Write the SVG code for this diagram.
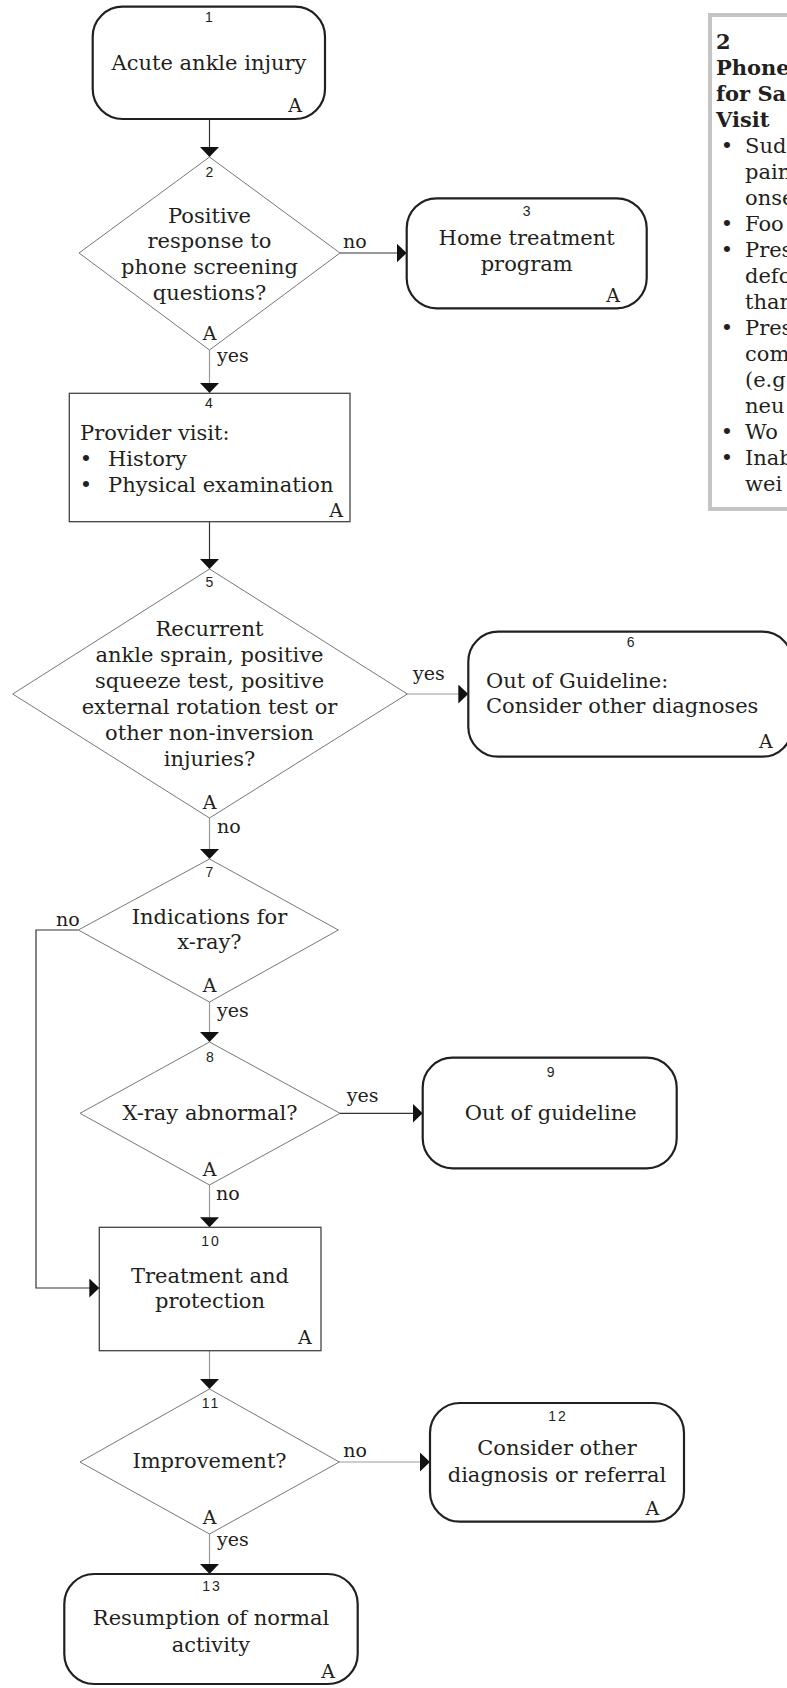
<svg xmlns="http://www.w3.org/2000/svg" width="787" height="1688" viewBox="0 0 787 1688">
<defs>
<style>
.t{font-family:"DejaVu Serif","Liberation Serif",serif;font-size:21px;fill:#231f20;text-anchor:middle}
.tl{font-family:"DejaVu Serif","Liberation Serif",serif;font-size:21px;fill:#231f20}
.tb{font-family:"DejaVu Serif","Liberation Serif",serif;font-size:21px;font-weight:bold;fill:#231f20}
.n{font-family:"Liberation Sans",Arial,sans-serif;font-size:14px;fill:#231f20;text-anchor:middle}
.a{font-family:"DejaVu Serif","Liberation Serif",serif;font-size:19px;fill:#231f20;text-anchor:middle}
.ae{font-family:"DejaVu Serif","Liberation Serif",serif;font-size:19px;fill:#231f20;text-anchor:end}
.l{font-family:"DejaVu Serif","Liberation Serif",serif;font-size:19px;fill:#231f20}
.term{fill:#fff;stroke:#231f20;stroke-width:2.2}
.box{fill:#fff;stroke:#444;stroke-width:1.3}
.dia{fill:#fff;stroke:#777;stroke-width:1}
.c{fill:none;stroke:#333;stroke-width:1.2;marker-end:url(#ah)}
.cg{fill:none;stroke:#999;stroke-width:1.2;marker-end:url(#ah)}
</style>
<marker id="ah" markerUnits="userSpaceOnUse" markerWidth="10" markerHeight="19" viewBox="0 0 10 19" refX="10" refY="9.5" orient="auto">
<path d="M0,0 L10,9.5 L0,19 z" fill="#111"/>
</marker>
</defs>

<g id="connectors">
<path class="c" d="M209.5,119 L209.5,157"/>
<path class="c" d="M340,253 L406.7,253"/>
<path class="cg" d="M209.5,350 L209.5,393"/>
<path class="c" d="M209.5,521.7 L209.5,569"/>
<path class="cg" d="M407.3,694 L468.3,694"/>
<path class="cg" d="M209.5,818 L209.5,859"/>
<path class="cg" d="M209.5,1002 L209.5,1042"/>
<path class="c" d="M78.3,930 L36,930 L36,1288 L99.3,1288"/>
<path class="c" d="M340,1113.3 L422.7,1113.3"/>
<path class="cg" d="M209.5,1185 L209.5,1227.3"/>
<path class="cg" d="M209.5,1350.7 L209.5,1389"/>
<path class="cg" d="M339.3,1462 L430,1462"/>
<path class="cg" d="M209.5,1534 L209.5,1574"/>
</g>

<g id="node1">
<rect class="term" x="92.7" y="6.7" width="232.3" height="112.3" rx="30" ry="30"/>
<text class="n" x="209" y="22">1</text>
<text class="t" x="209" y="70">Acute ankle injury</text>
<text class="ae" x="302" y="112">A</text>
</g>

<g id="node2">
<polygon class="dia" points="209.5,157 340,253 209.5,350 79,253"/>
<text class="n" x="209.5" y="177">2</text>
<text class="t" x="209.5" y="222.5">Positive</text>
<text class="t" x="209.5" y="248">response to</text>
<text class="t" x="209.5" y="274">phone screening</text>
<text class="t" x="209.5" y="299.5">questions?</text>
<text class="a" x="209.5" y="340">A</text>
<text class="l" x="343" y="248">no</text>
<text class="l" x="217" y="362">yes</text>
</g>

<g id="node3">
<rect class="term" x="406.7" y="198.3" width="240" height="110" rx="30" ry="30"/>
<text class="n" x="526.7" y="216">3</text>
<text class="t" x="526.7" y="245">Home treatment</text>
<text class="t" x="526.7" y="271">program</text>
<text class="ae" x="620" y="302">A</text>
</g>

<g id="node4">
<rect class="box" x="69.3" y="393.3" width="280.7" height="128.4"/>
<text class="n" x="209" y="408">4</text>
<text class="tl" x="80" y="440">Provider visit:</text>
<text class="t" x="86" y="465.7">•</text>
<text class="tl" x="108" y="465.7">History</text>
<text class="t" x="86" y="491.7">•</text>
<text class="tl" x="108" y="491.7">Physical examination</text>
<text class="ae" x="343" y="516.7">A</text>
</g>

<g id="node5">
<polygon class="dia" points="209.5,569 407.3,694 209.5,818 12.7,694"/>
<text class="n" x="209.5" y="587">5</text>
<text class="t" x="209.5" y="636">Recurrent</text>
<text class="t" x="209.5" y="661.7">ankle sprain, positive</text>
<text class="t" x="209.5" y="688">squeeze test, positive</text>
<text class="t" x="209.5" y="714">external rotation test or</text>
<text class="t" x="209.5" y="740">other non-inversion</text>
<text class="t" x="209.5" y="765.5">injuries?</text>
<text class="a" x="209.5" y="809.3">A</text>
<text class="l" x="413" y="680">yes</text>
<text class="l" x="217" y="832.7">no</text>
</g>

<g id="node6">
<rect class="term" x="468.3" y="631.7" width="324" height="125" rx="30" ry="30"/>
<text class="n" x="630.7" y="647">6</text>
<text class="tl" x="486" y="688.3">Out of Guideline:</text>
<text class="tl" x="486" y="713.3">Consider other diagnoses</text>
<text class="ae" x="772.7" y="748.3">A</text>
</g>

<g id="node7">
<polygon class="dia" points="209.5,859 338.3,930 209.5,1002 78.3,930"/>
<text class="n" x="209.5" y="877">7</text>
<text class="t" x="209.5" y="924">Indications for</text>
<text class="t" x="209.5" y="949.3">x-ray?</text>
<text class="a" x="209.5" y="991.7">A</text>
<text class="l" x="56" y="926">no</text>
<text class="l" x="217" y="1016.7">yes</text>
</g>

<g id="node8">
<polygon class="dia" points="209.5,1042 340,1113.3 209.5,1185 80,1113.3"/>
<text class="n" x="210" y="1062">8</text>
<text class="t" x="210" y="1120">X-ray abnormal?</text>
<text class="a" x="209.5" y="1176">A</text>
<text class="l" x="346.7" y="1101.7">yes</text>
<text class="l" x="216" y="1200">no</text>
</g>

<g id="node9">
<rect class="term" x="422.7" y="1057.7" width="254" height="110.6" rx="30" ry="30"/>
<text class="n" x="550.7" y="1077">9</text>
<text class="t" x="550.7" y="1120">Out of guideline</text>
</g>

<g id="node10">
<rect class="box" x="99.3" y="1227.3" width="221.7" height="123.4"/>
<text class="n" x="211" y="1246" letter-spacing="2">10</text>
<text class="t" x="210" y="1282.7">Treatment and</text>
<text class="t" x="210" y="1308.3">protection</text>
<text class="ae" x="311.7" y="1344.3">A</text>
</g>

<g id="node11">
<polygon class="dia" points="209.5,1389 339.3,1462 209.5,1534 80,1462"/>
<text class="n" x="211" y="1408.3" letter-spacing="2">11</text>
<text class="t" x="209.5" y="1468.3">Improvement?</text>
<text class="a" x="209.5" y="1524">A</text>
<text class="l" x="343.3" y="1456.7">no</text>
<text class="l" x="217" y="1546">yes</text>
</g>

<g id="node12">
<rect class="term" x="430" y="1403" width="254" height="118.7" rx="30" ry="30"/>
<text class="n" x="558" y="1421" letter-spacing="2">12</text>
<text class="t" x="557" y="1455">Consider other</text>
<text class="t" x="557" y="1481.7">diagnosis or referral</text>
<text class="ae" x="659.3" y="1515">A</text>
</g>

<g id="node13">
<rect class="term" x="64.3" y="1574" width="293.4" height="110" rx="30" ry="30"/>
<text class="n" x="212" y="1590.7" letter-spacing="2">13</text>
<text class="t" x="211" y="1625">Resumption of normal</text>
<text class="t" x="211" y="1651.7">activity</text>
<text class="ae" x="335" y="1678">A</text>
</g>

<g id="sidebox">
<rect x="710" y="15" width="100" height="494" fill="#fff" stroke="#c4c4c4" stroke-width="4"/>
<text class="tb" x="716" y="49">2</text>
<text class="tb" x="716" y="75">Phone</text>
<text class="tb" x="716" y="101">for Sa</text>
<text class="tb" x="716" y="127">Visit</text>
<text class="t" x="727" y="153">•</text><text class="tl" x="745" y="153">Sud</text>
<text class="tl" x="745" y="179">pain</text>
<text class="tl" x="745" y="205">onse</text>
<text class="t" x="727" y="231">•</text><text class="tl" x="745" y="231">Foo</text>
<text class="t" x="727" y="257">•</text><text class="tl" x="745" y="257">Pres</text>
<text class="tl" x="745" y="283">defo</text>
<text class="tl" x="745" y="309">than</text>
<text class="t" x="727" y="335">•</text><text class="tl" x="745" y="335">Pres</text>
<text class="tl" x="745" y="361">com</text>
<text class="tl" x="745" y="387">(e.g</text>
<text class="tl" x="745" y="413">neu</text>
<text class="t" x="727" y="439">•</text><text class="tl" x="745" y="439">Wo</text>
<text class="t" x="727" y="465">•</text><text class="tl" x="745" y="465">Inab</text>
<text class="tl" x="745" y="491">wei</text>
</g>
</svg>
